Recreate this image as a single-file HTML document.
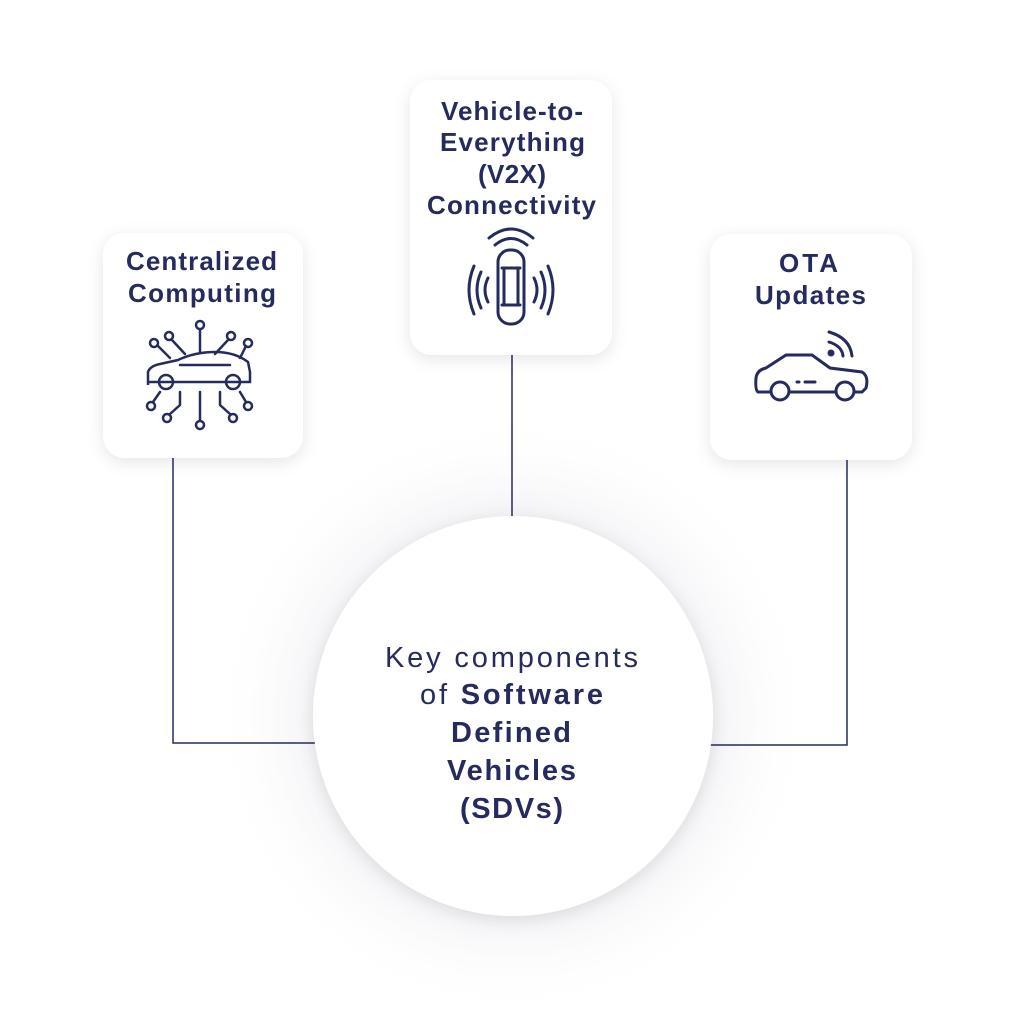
<!DOCTYPE html>
<html><head><meta charset="utf-8"><style>
html,body{margin:0;padding:0;background:#fff;}
svg{display:block;}
text{font-family:"Liberation Sans",sans-serif;fill:#262b5e;}
</style></head><body>
<svg width="1024" height="1024" viewBox="0 0 1024 1024" xmlns="http://www.w3.org/2000/svg">
<defs>
<filter id="sh" x="-30%" y="-30%" width="160%" height="160%"><feDropShadow dx="0" dy="4" stdDeviation="8" flood-color="#000" flood-opacity="0.10"/></filter>
<radialGradient id="halo" cx="0.5" cy="0.5" r="0.5"><stop offset="0.6" stop-color="#e8e8ee" stop-opacity="0.7"/><stop offset="1" stop-color="#fff" stop-opacity="0"/></radialGradient>
</defs>
<rect width="1024" height="1024" fill="#fff"/>
<circle cx="513" cy="716" r="300" fill="url(#halo)"/>
<g stroke="#262b5e" stroke-width="1.5" fill="none">
<path d="M173 458 V743 H320"/>
<path d="M512 355 V520"/>
<path d="M847 460 V745 H708"/>
</g>
<circle cx="513" cy="716" r="200" fill="#fff" filter="url(#sh)"/>
<rect x="103" y="233" width="200" height="225" rx="22" fill="#fff" filter="url(#sh)"/>
<rect x="410" y="80" width="202" height="275" rx="22" fill="#fff" filter="url(#sh)"/>
<rect x="710" y="234" width="202" height="226" rx="22" fill="#fff" filter="url(#sh)"/>
<g font-weight="bold" font-size="26" lengthAdjust="spacing">
<text x="126" y="270" textLength="151">Centralized</text>
<text x="128" y="302" textLength="148">Computing</text>
<text x="441" y="120" textLength="142">Vehicle-to-</text>
<text x="440" y="151" textLength="145">Everything</text>
<text x="478" y="183" textLength="68">(V2X)</text>
<text x="427" y="214" textLength="169">Connectivity</text>
<text x="779" y="272" textLength="59">OTA</text>
<text x="755" y="304" textLength="111">Updates</text>
</g>
<g font-size="29" lengthAdjust="spacing">
<text x="385" y="667" textLength="253">Key components</text>
<text x="420" y="704" textLength="183">of <tspan font-weight="bold">Software</tspan></text>
<text x="451" y="742" font-weight="bold" textLength="120">Defined</text>
<text x="447" y="780" font-weight="bold" textLength="129">Vehicles</text>
<text x="460" y="818" font-weight="bold" textLength="103">(SDVs)</text>
</g>
<!-- centralized icon -->
<g stroke="#262b5e" stroke-width="2.5" fill="none" stroke-linecap="round">
<path d="M148 385 V372 Q150 366 160 364 L178 360 Q195 352 215 352 Q235 352 248 362 L250 372 V382 H148 Z"/>
<circle cx="166" cy="382" r="7"/><circle cx="233" cy="382" r="7"/>
<path d="M180 365 H230"/>
<path d="M200 330 V352 M200 392 V420"/>
<circle cx="200" cy="325" r="4"/><circle cx="200" cy="425" r="4"/>
<path d="M185 354 L172 340"/><circle cx="169" cy="336" r="4"/>
<path d="M215 354 L228 340"/><circle cx="231" cy="336" r="4"/>
<path d="M170 358 L158 346"/><circle cx="154" cy="343" r="4"/>
<path d="M240 358 L246 346"/><circle cx="248" cy="343" r="4"/>
<path d="M180 392 V405 L170 414"/><circle cx="167" cy="418" r="4"/>
<path d="M220 392 V405 L230 414"/><circle cx="233" cy="418" r="4"/>
<path d="M160 392 L153 402"/><circle cx="151" cy="406" r="4"/>
<path d="M240 392 L246 402"/><circle cx="248" cy="406" r="4"/>
</g>
<!-- v2x icon -->
<g stroke="#262b5e" stroke-width="3" fill="none" stroke-linecap="round">
<rect x="498" y="250" width="26" height="74" rx="12"/>
<path d="M502 268 H520 M502 305 H520 M504 268 V305 M518 268 V305"/>
<path d="M495 245 Q511 232 527 245"/><path d="M489 238 Q511 220 533 238"/>
<path d="M488 278 Q482 290 488 302"/><path d="M481 272 Q473 290 481 308"/><path d="M474 266 Q464 290 474 314"/>
<path d="M534 278 Q540 290 534 302"/><path d="M541 272 Q549 290 541 308"/><path d="M548 266 Q558 290 548 314"/>
</g>
<!-- OTA icon -->
<g stroke="#262b5e" stroke-width="3" fill="none" stroke-linecap="round">
<path d="M770 392 H758 Q755 390 756 378 Q757 370 766 368 L786 355 H812 L830 368 L862 372 Q869 376 866 388 L862 392 H854"/>
<path d="M790 392 H834"/>
<circle cx="780" cy="391" r="9"/><circle cx="845" cy="391" r="9"/>
<path d="M797 382 H799 M805 382 H815"/>
<path d="M829 332 Q850 338 852 356"/><path d="M829 342 Q842 346 843 356"/>
<circle cx="831" cy="353" r="2" fill="#262b5e"/>
</g>
</svg>
</body></html>
